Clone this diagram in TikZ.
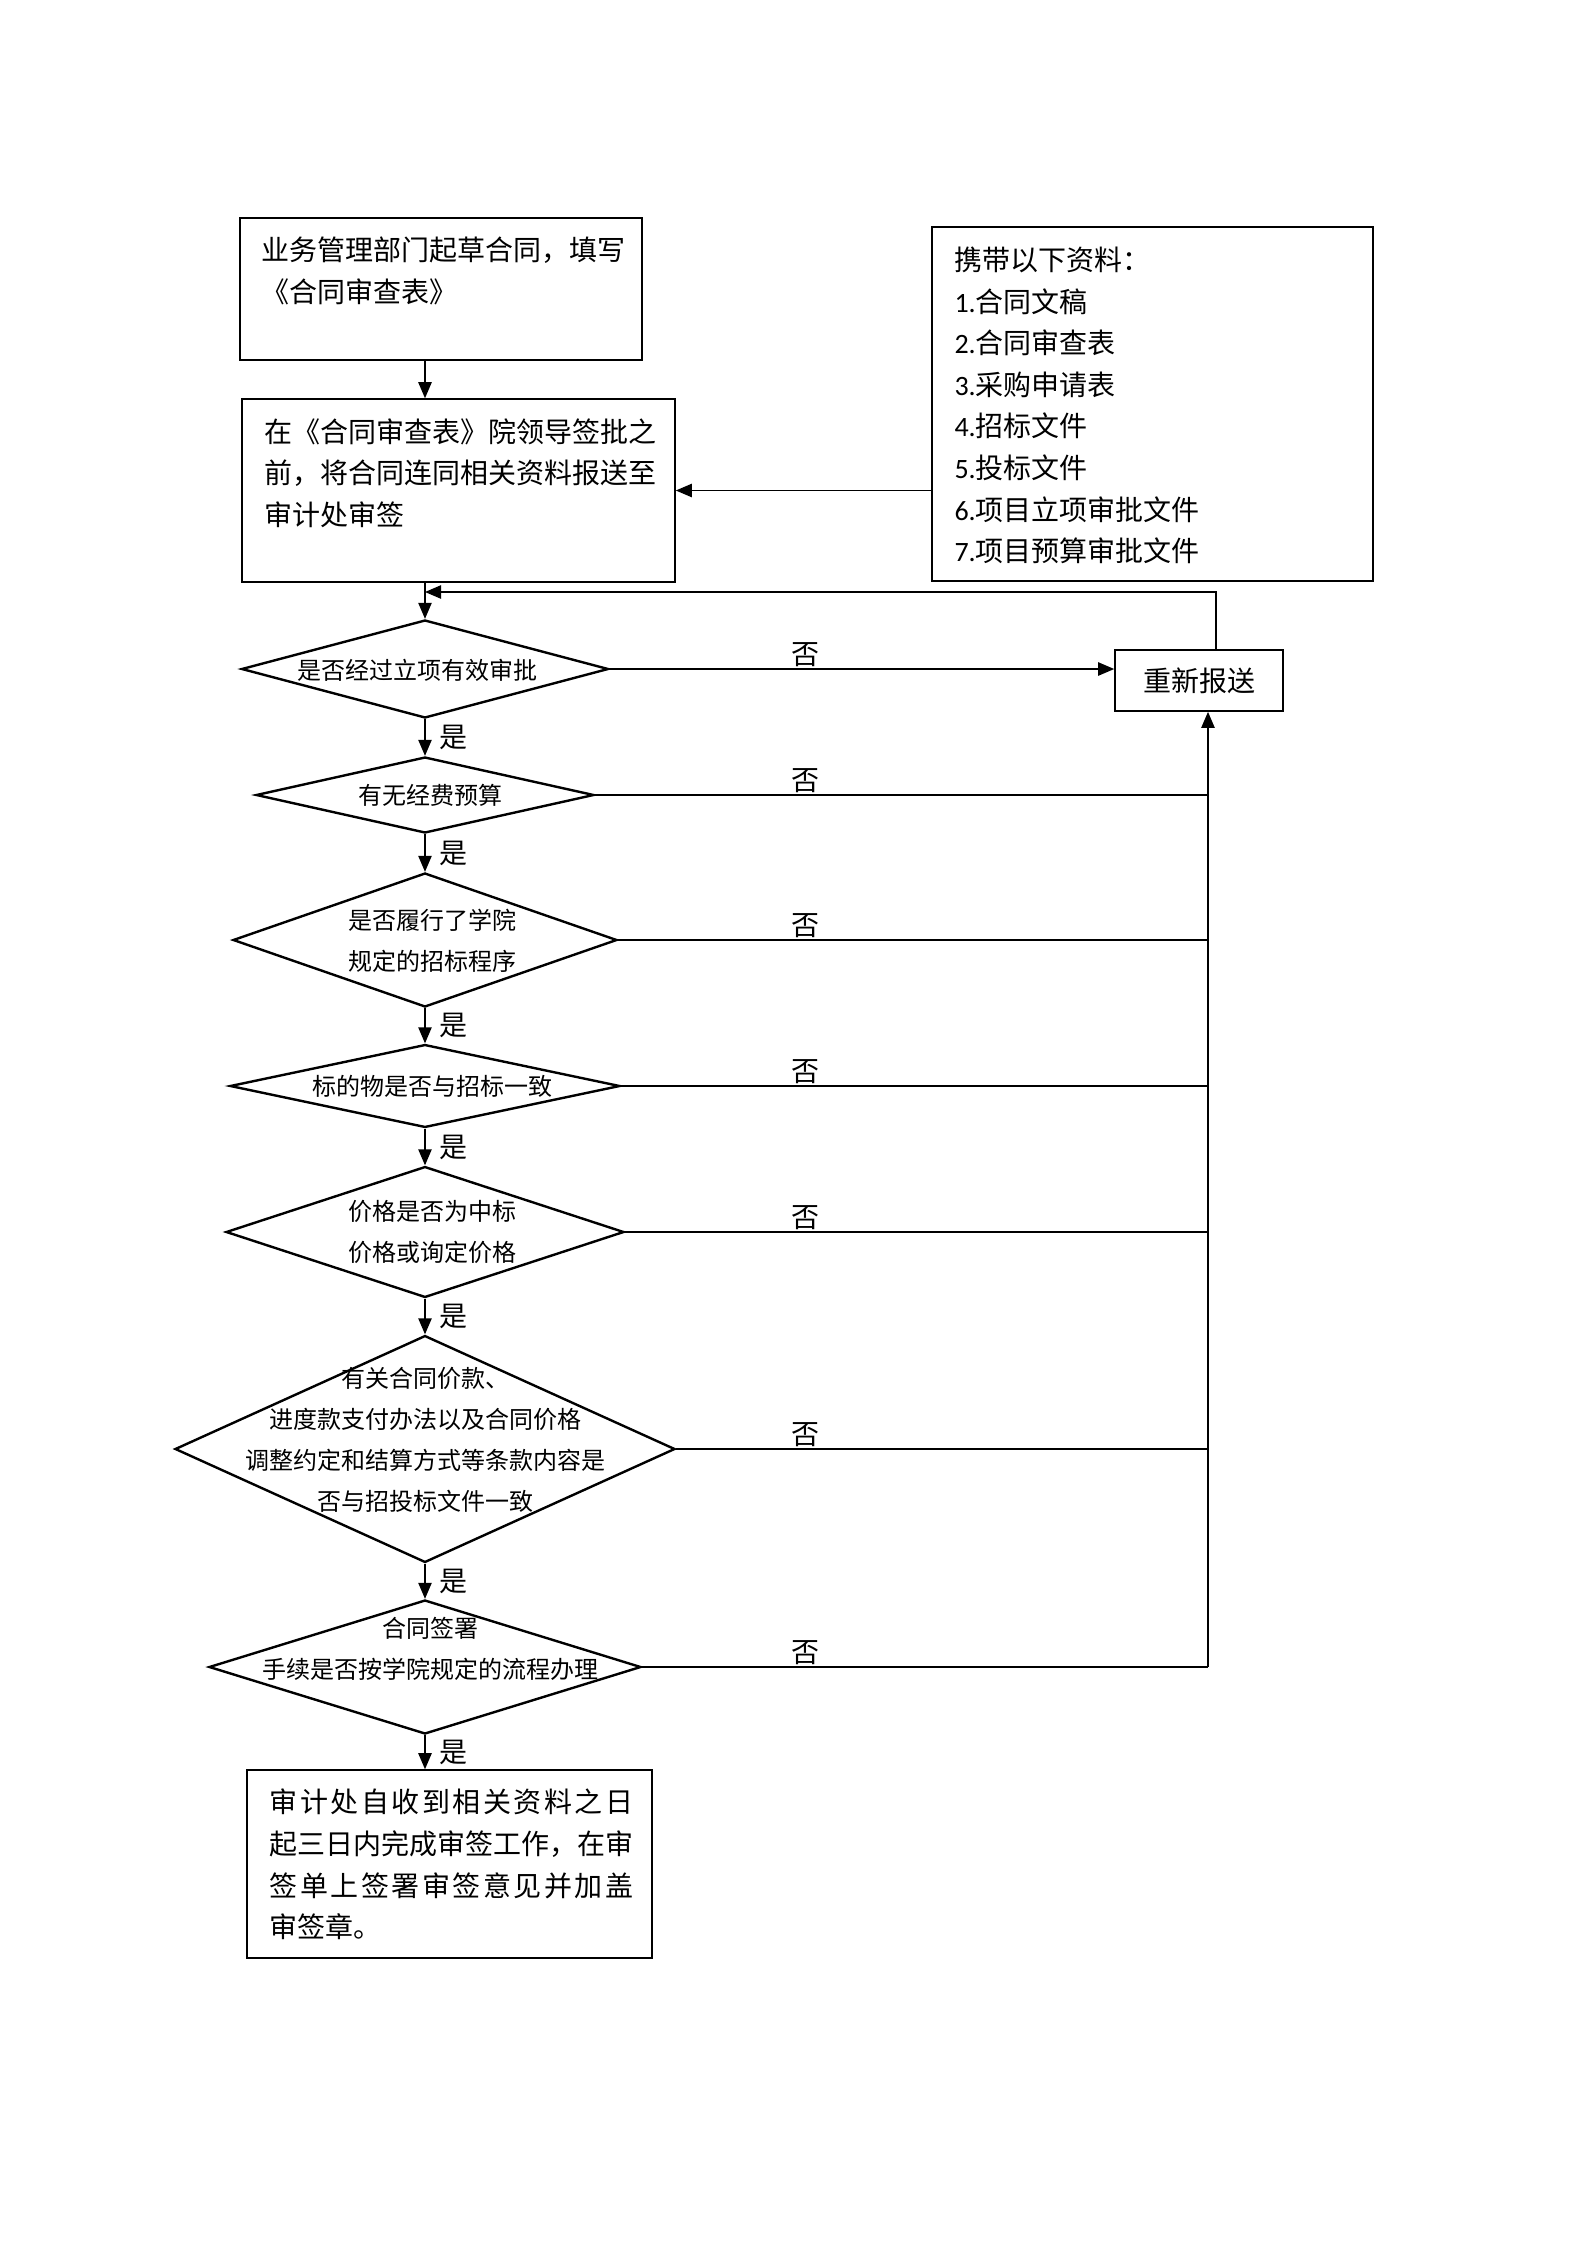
\documentclass[tikz,border=0pt]{standalone}
\usepackage{fontspec}
\setmainfont{Noto Sans CJK SC}
\newfontfamily\numfont{Carlito}
\newfontfamily\widecjk[LetterSpace=9]{Noto Sans CJK SC}
\usetikzlibrary{shapes.geometric,arrows.meta}
\newcommand{\itemno}[1]{{\numfont #1}}

\begin{document}
\begin{tikzpicture}[
    x=0.375pt, y=-0.375pt,
    % Define styles
    box/.style={
        draw,
        line width=0.6pt,
        inner sep=0pt
    },
    boxtext/.style={
        anchor=west,
        align=left,
        inner sep=0pt,
        font=\fontsize{10.5pt}{15.6pt}\selectfont
    },
    decision/.style={
        diamond,
        draw,
        line width=0.9pt,
        inner sep=0pt
    },
    decisiontext/.style={
        align=center,
        inner sep=0pt,
        font=\fontsize{9pt}{15.4pt}\selectfont
    },
    answer/.style={
        font=\fontsize{10.5pt}{12pt}\selectfont
    },
    flow/.style={
        -{Triangle[length=6pt,width=5pt]},
        line width=0.5pt
    },
    link/.style={
        line width=0.5pt
    }
]

    \useasboundingbox (0,0) rectangle (1587,2245);

    % --- Top boxes ---
    \node[box, minimum width=150.75pt, minimum height=53.25pt] (draft) at (441,289) {};
    \node[boxtext] (drafttext) at (261,271) {业务管理部门起草合同，填写\\《合同审查表》};

    \node[box, minimum width=162.4pt, minimum height=68.6pt] (submit) at (458.5,490.5) {};
    \node[boxtext] (submittext) at (264,473) {在《合同审查表》院领导签批之\\前，将合同连同相关资料报送至\\审计处审签};

    \node[box, minimum width=165.4pt, minimum height=132.75pt] (docs) at (1152.5,404) {};
    \node[boxtext] (docstext) at (954,405.5) {携带以下资料：\\
        \itemno{1.}合同文稿\\
        \itemno{2.}合同审查表\\
        \itemno{3.}采购申请表\\
        \itemno{4.}招标文件\\
        \itemno{5.}投标文件\\
        \itemno{6.}项目立项审批文件\\
        \itemno{7.}项目预算审批文件};

    \node[box, minimum width=63pt, minimum height=22.9pt, font=\fontsize{10.5pt}{12pt}\selectfont] (resend) at (1199,680.5) {重新报送};

    % --- Decisions ---
    \node[decision, minimum width=137.6pt, minimum height=36.75pt] (q1) at (425,669) {};
    \node[decisiontext] (q1text) at (417,670) {是否经过立项有效审批};

    \node[decision, minimum width=126.75pt, minimum height=28.5pt] (q2) at (425,795) {};
    \node[decisiontext] (q2text) at (430,795) {有无经费预算};

    \node[decision, minimum width=144pt, minimum height=50.25pt] (q3) at (425,940) {};
    \node[decisiontext] (q3text) at (432,941) {是否履行了学院\\规定的招标程序};

    \node[decision, minimum width=146.25pt, minimum height=31.1pt] (q4) at (425,1086) {};
    \node[decisiontext] (q4text) at (432,1086) {标的物是否与招标一致};

    \node[decision, minimum width=149.25pt, minimum height=49.1pt] (q5) at (425,1232) {};
    \node[decisiontext] (q5text) at (432,1232) {价格是否为中标\\价格或询定价格};

    \node[decision, minimum width=187.5pt, minimum height=85.1pt] (q6) at (425,1449) {};
    \node[decisiontext] (q6text) at (425,1440) {有关合同价款、\\进度款支付办法以及合同价格\\调整约定和结算方式等条款内容是\\否与招投标文件一致};

    \node[decision, minimum width=162pt, minimum height=50.25pt] (q7) at (425,1667) {};
    \node[decisiontext] (q7text) at (430,1649) {合同签署\\手续是否按学院规定的流程办理};

    % --- Final box ---
    \node[box, minimum width=151.9pt, minimum height=70.5pt] (audit) at (449.5,1864) {};
    \node[boxtext] (audittext) at (269,1864.5) {{\widecjk 审计处自收到相关资料之日}\\起三日内完成审签工作，在审\\{\widecjk 签单上签署审签意见并加盖}\\审签章。};

    % --- Connectors ---
    \coordinate (back) at (425,592);
    \coordinate (bus) at (1208,1667);
    \coordinate (noaxis) at (805,0);

    \draw[flow] (draft.south -| q1) -- (submit.north -| q1);
    \draw[flow] (docs.west |- submit.east) -- (submit.east);
    \draw[flow] (submit.south -| q1) -- (q1.north);
    \draw[flow] ([xshift=6.4pt]resend.north) |- (back);
    \draw[flow] (q1.east) -- (q1.east -| resend.west);
    \draw[flow] (bus) -- (bus |- resend.south);

    % No branches run into the bus on the right
    \foreach \q in {q2,q3,q4,q5,q6,q7} {
        \draw[link] (\q.east) -- (\q.east -| bus);
    }

    % Yes branches down the middle
    \foreach \a/\b in {q1/q2,q2/q3,q3/q4,q4/q5,q5/q6,q6/q7} {
        \draw[flow] (\a.south) -- node[answer, right=2pt] (yes\a) {是} (\b.north);
    }
    \draw[flow] (q7.south) -- node[answer, right=2pt] (yesq7) {是} (audit.north -| q7);

    \foreach \q in {q1,q2,q3,q4,q5,q6,q7} {
        \node[answer, above, inner sep=0.5pt] (no\q) at (\q.east -| noaxis) {否};
    }

\end{tikzpicture}
\end{document}
